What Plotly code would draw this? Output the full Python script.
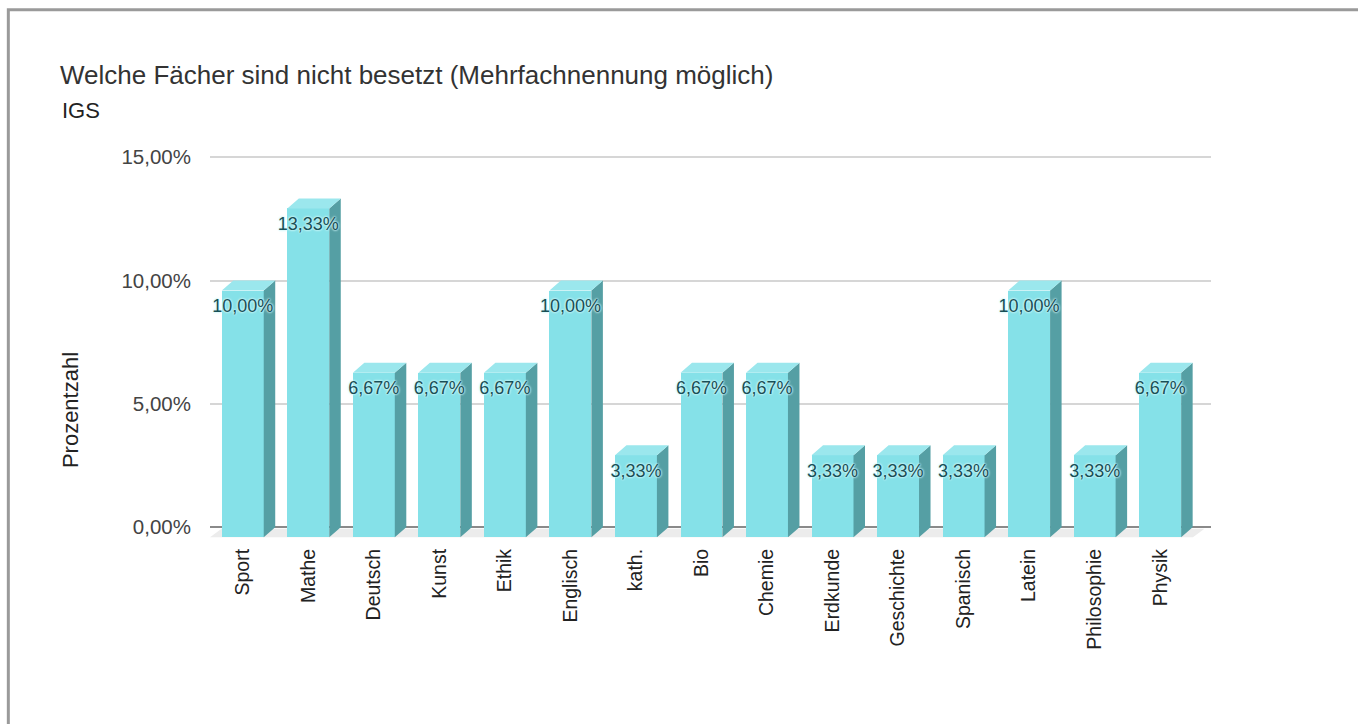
import plotly.graph_objects as go

# Fächer und Anteil der Nennungen (in Prozent)
categories = ["Sport", "Mathe", "Deutsch", "Kunst", "Ethik", "Englisch", "kath.",
              "Bio", "Chemie", "Erdkunde", "Geschichte", "Spanisch", "Latein",
              "Philosophie", "Physik"]
values = [10.00, 13.33, 6.67, 6.67, 6.67, 10.00, 3.33,
          6.67, 6.67, 3.33, 3.33, 3.33, 10.00, 3.33, 6.67]
y_tick_vals = [0, 5, 10, 15]
y_tick_text = ["0,00%", "5,00%", "10,00%", "15,00%"]

# --- layout geometry (pixels) ---
W, H = 1358, 724
SLOT_PX = 65.54          # width of one category slot
PLOT_L = 210.2           # left edge of the front plane
DEPTH_X_PX = 11.5        # horizontal depth of the 3D extrusion
DEPTH_Y_PX = 10.0        # vertical depth of the 3D extrusion
Y0_PX, Y15_PX = 527.0, 157.0
UNIT_PX = (Y0_PX - Y15_PX) / 15.0
BAR_W = 0.64

FONT = "Liberation Sans, Arial, Helvetica, sans-serif"
FRONT = "#85e1e8"
SIDE = "#559fa4"
TOP = "#9be7ed"
LABEL = "#184f56"

n = len(categories)
idx = list(range(n))
dxu = DEPTH_X_PX / SLOT_PX
dyu = DEPTH_Y_PX / UNIT_PX

x_lo, x_hi = -0.5, n - 0.5 + dxu + 0.1
y_lo, y_hi = -dyu - 0.15, 15.05

m_l = PLOT_L
m_r = W - (PLOT_L + (x_hi - x_lo) * SLOT_PX)
m_t = Y15_PX - (y_hi - 15) * UNIT_PX
m_b = H - (Y0_PX + (0 - y_lo) * UNIT_PX)
plot_w = W - m_l - m_r
plot_h = H - m_t - m_b


def paper_x(px):
    return (px - m_l) / plot_w


def paper_y(py):
    return (H - m_b - py) / plot_h


def fmt(v):
    return f"{v:.2f}".replace(".", ",") + "%"


# side and top faces of each bar
side_x, side_y, top_x, top_y = [], [], [], []
for i, v in zip(idx, values):
    r = i + BAR_W / 2
    l = i - BAR_W / 2
    side_x += [r, r, r + dxu, r + dxu, r, None]
    side_y += [-dyu, v - dyu, v, 0, -dyu, None]
    top_x += [l, r, r + dxu, l + dxu, l, None]
    top_y += [v - dyu, v - dyu, v, v, v - dyu, None]

fig = go.Figure()

fig.add_trace(go.Bar(
    x=idx, y=values, base=-dyu, width=BAR_W,
    marker=dict(color=FRONT, line=dict(width=0)),
    hoverinfo="skip", showlegend=False,
))
fig.add_trace(go.Scatter(
    x=side_x, y=side_y, mode="none", fill="toself", fillcolor=SIDE,
    hoverinfo="skip", showlegend=False,
))
fig.add_trace(go.Scatter(
    x=top_x, y=top_y, mode="none", fill="toself", fillcolor=TOP,
    hoverinfo="skip", showlegend=False,
))
fig.add_trace(go.Scatter(
    x=idx, y=[v - dyu - 17 / UNIT_PX for v in values],
    mode="text", text=[fmt(v) for v in values],
    textposition="middle center",
    textfont=dict(family=FONT, size=18, color=LABEL,
                  shadow="0px 0px 2px #d2f8fa, 0px 0px 2px #d2f8fa, 0px 0px 3px #c6f4f7"),
    cliponaxis=False, hoverinfo="skip", showlegend=False,
))

# floor under the bars
fig.add_shape(
    type="path", xref="x", yref="y", layer="between",
    path=(f"M {x_lo},{-dyu} L {n - 0.5},{-dyu} "
          f"L {n - 0.5 + dxu},{-0.06} L {x_lo + dxu},{-0.06} Z"),
    fillcolor="#ececec", line=dict(width=0),
)

# frame
fig.add_shape(
    type="rect", xref="paper", yref="paper", layer="above",
    x0=paper_x(8.5), x1=paper_x(W + 20), y0=paper_y(H + 20), y1=paper_y(9.5),
    line=dict(color="#9a9a9a", width=3), fillcolor="rgba(0,0,0,0)",
)

# subtitle and axis title
fig.add_annotation(
    text="IGS", xref="paper", yref="paper",
    x=paper_x(60), y=paper_y(110), xanchor="left", yanchor="middle",
    showarrow=False, font=dict(family=FONT, size=22, color="#222222"),
)
fig.add_annotation(
    text="Prozentzahl", xref="paper", yref="paper", textangle=-90,
    x=paper_x(70), y=paper_y(410), xanchor="center", yanchor="middle",
    showarrow=False, font=dict(family=FONT, size=22, color="#222222"),
)

fig.update_layout(
    width=W, height=H,
    margin=dict(l=m_l, r=m_r, t=m_t, b=m_b, pad=0),
    paper_bgcolor="white", plot_bgcolor="white",
    font=dict(family=FONT, color="#222222"),
    title=dict(
        text="Welche Fächer sind nicht besetzt (Mehrfachnennung möglich)",
        xref="container", yref="container",
        x=60 / W, xanchor="left", y=1 - 75 / H, yanchor="middle",
        font=dict(family=FONT, size=26, color="#333333"),
    ),
    bargap=0, showlegend=False,
)

fig.update_xaxes(
    range=[x_lo, x_hi], tickmode="array", tickvals=idx, ticktext=categories,
    tickangle=-90, tickfont=dict(family=FONT, size=19.5, color="#222222"),
    showgrid=False, zeroline=False, showline=False, ticks="",
    ticklabelstandoff=3,
    automargin=False, fixedrange=True,
)
fig.update_yaxes(
    range=[y_lo, y_hi], tickmode="array", tickvals=y_tick_vals, ticktext=y_tick_text,
    tickfont=dict(family=FONT, size=20.5, color="#444444"),
    showgrid=True, gridcolor="#d6d6d6", gridwidth=2,
    zeroline=True, zerolinecolor="#8a8a8a", zerolinewidth=2,
    showline=False, ticks="", ticklabelstandoff=18,
    automargin=False, fixedrange=True,
)

fig.write_html("out.html")
